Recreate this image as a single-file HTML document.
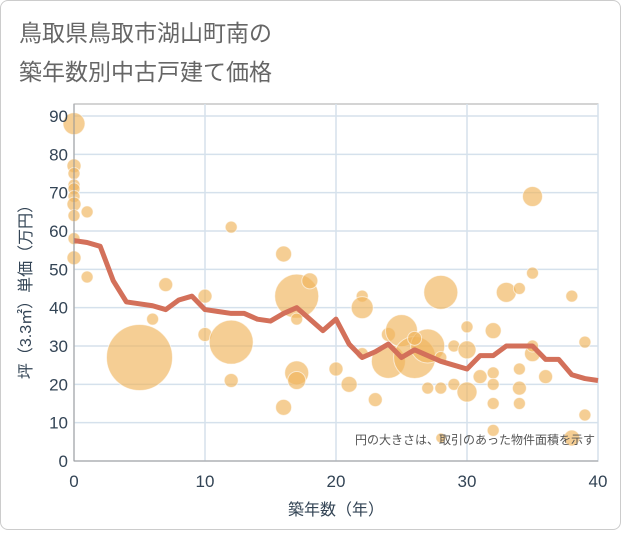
<!DOCTYPE html>
<html><head><meta charset="utf-8"><style>
body{margin:0;background:#fff;}
#card{position:absolute;left:0;top:0;width:619px;height:528px;border:1px solid #ccc;border-radius:8px;background:#fff;}
svg text{font-family:"Liberation Sans","Noto Sans CJK JP",sans-serif;}
</style></head><body>
<div id="card">
<svg id="chart" width="621" height="530">
<text x="18" y="40" font-size="23" fill="#666">鳥取県鳥取市湖山町南の</text>
<text x="18" y="79" font-size="23" fill="#666">築年数別中古戸建て価格</text>
<g id="grid"></g><g id="bubbles"></g><g id="line"></g><g id="axes"></g>
<text x="594" y="443" font-size="12" fill="#555" text-anchor="end">円の大きさは、取引のあった物件面積を示す</text>
<text x="335" y="514" font-size="16" fill="#345" text-anchor="middle">築年数（年）</text>
<text transform="translate(30,287) rotate(-90)" font-size="16" fill="#345" text-anchor="middle">坪（3.3㎡）単価（万円）</text>
</svg></div>
<script>
const xTicks=[0,10,20,30,40];
const yTicks=[0,10,20,30,40,50,60,70,80,90];
const lineAges=[0,1,2,3,4,5,6,7,8,9,10,11,12,13,14,15,16,17,18,19,20,21,22,23,24,25,26,27,28,29,30,31,32,33,34,35,36,37,38,39,40];
const lineValues=[57.5,57,56,47,41.5,41,40.5,39.5,42,43,39.5,39,38.5,38.5,37,36.5,38.5,40,37,34,37,30.5,27,28.5,30.5,27,29,27.5,26,25,24,27.5,27.5,30,30,30,26.5,26.5,22.5,21.5,21];
const bubbleAges=[0,0,0,0,0,0,0,0,1,0,0,1,5,7,6,10,10,12,12,12,16,17,18,17,17,17,16,20,21,22,22,22,23,24,24,25,26,27,26,28,27,28,28,29,29,30,30,30,31,32,32,32,32,32,33,34,34,34,34,35,35,35,35,36,38,39,39,38,28];
const bubblePrices=[88,77,75,72,71,69,67,64,65,58,53,48,27,46,37,43,33,61,31,21,54,43,47,37,23,21,14,24,20,43,40,28,16,33,26,34,27,30,32,44,19,19,27,30,20,29,35,18,22,34,23,20,15,8,44,45,24,19,15,69,49,28,30,22,43,31,12,6,6];
const bubbleSizes=[11,7,6,6,6,6,7,6,6,6,7,6,33,7,6,7,7,6,22,7,8,22,8,6,12,9,8,7,8,6,11,6,7,7,17,16,21,17,7,17,6,6,6,6,6,9,6,10,7,8,6,6,6,6,10,6,6,7,6,10,6,8,6,7,6,6,6,8,5];
const NS='http://www.w3.org/2000/svg';
const X0=73,X1=597,Y0=460,Y1=115;
const sx=v=>X0+(v-0)/40*(X1-X0);
const sy=v=>Y0-(v/90)*(Y0-Y1);
function mk(t,a,p){const e=document.createElementNS(NS,t);for(const k in a)e.setAttribute(k,a[k]);p.appendChild(e);return e;}
const grid=document.getElementById('grid'),axes=document.getElementById('axes');
mk('rect',{x:X0,y:103,width:X1-X0,height:Y0-103,fill:'none',stroke:'#aaa'},grid);
yTicks.forEach(t=>{const l=mk('line',{x1:X0,x2:X1,y1:sy(t),y2:sy(t),stroke:'#d5e1ec','stroke-width':1.5},grid);


const tx=mk('text',{x:X0-6,y:sy(t)+6,'font-size':17,fill:'#345','text-anchor':'end'},axes);tx.textContent=t;

});
xTicks.forEach(t=>{const l=mk('line',{x1:sx(t),x2:sx(t),y1:103,y2:Y0,stroke:'#d5e1ec','stroke-width':1.5},grid);


const tx=mk('text',{x:sx(t),y:486,'font-size':17,fill:'#345','text-anchor':'middle'},axes);tx.textContent=t;

});
mk('line',{x1:X0,x2:X1,y1:Y0,y2:Y0,stroke:'#999'},axes);
mk('line',{x1:X0,x2:X0,y1:103,y2:Y0,stroke:'#999'},axes);
const bg=document.getElementById('bubbles');
bubbleAges.forEach((a,i)=>{const c=mk('circle',{cx:sx(a),cy:sy(bubblePrices[i]),r:bubbleSizes[i],fill:'rgba(240,180,90,0.65)',stroke:'rgba(255,255,255,0.6)','stroke-width':1},bg);

});
const pts=lineAges.map((a,i)=>sx(a)+','+sy(lineValues[i])).join(' ');
const pl=mk('polyline',{points:pts,fill:'none',stroke:'#d3705a','stroke-width':5,'stroke-linejoin':'round'},document.getElementById('line'));


</script>
</body></html>
